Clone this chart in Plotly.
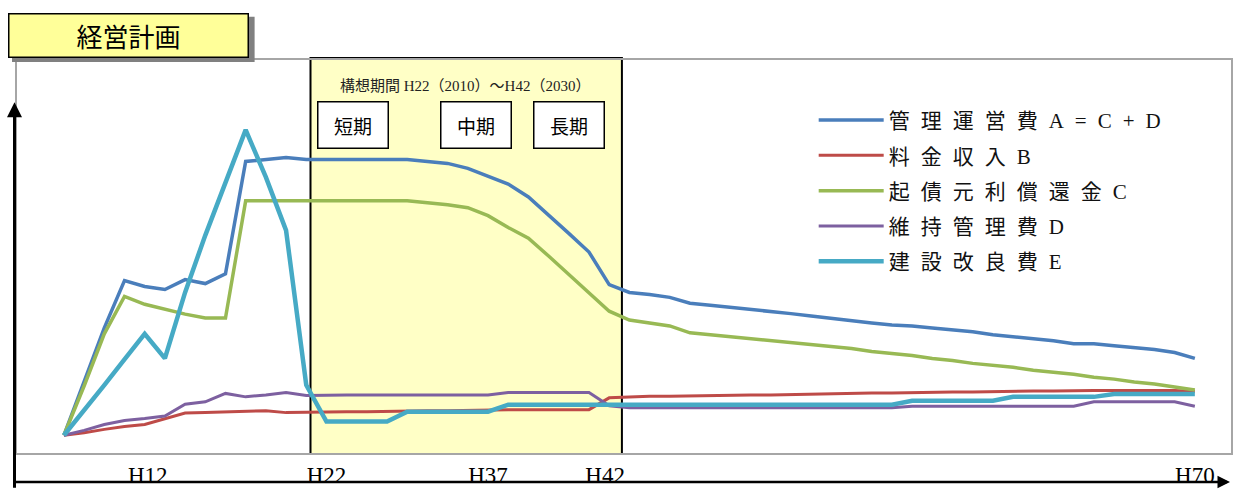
import plotly.graph_objects as go

# ---- data -------------------------------------------------------------
# positions along the horizontal axis (one step per period)
periods = list(range(57))

tick_labels = ["H12", "H22", "H37", "H42", "H70"]
tick_positions = [4.15, 13.0, 21.0, 26.8, 56.0]

# 管理運営費A=C+D
cost_A = [0.0, 5.4, 10.9, 15.7, 15.1, 14.8, 15.8, 15.4, 16.4, 27.8,
          28.0, 28.2, 28.0, 28.0, 28.0, 27.95, 27.95, 28.0, 27.8, 27.6,
          27.1, 26.3, 25.5, 24.2, 22.4, 20.5, 18.6, 15.3, 14.5, 14.3,
          14.0, 13.4, 13.2, 13.0, 12.8, 12.6, 12.35, 12.1, 11.85, 11.6,
          11.4, 11.2, 11.1, 10.9, 10.7, 10.5, 10.2, 10.0, 9.8, 9.6,
          9.3, 9.3, 9.1, 8.9, 8.7, 8.4, 7.8]

# 料金収入B
revenue_B = [0.0, 0.25, 0.6, 0.9, 1.1, 1.7, 2.25, 2.3, 2.35, 2.4,
             2.5, 2.3, 2.35, 2.35, 2.4, 2.4, 2.45, 2.45, 2.5, 2.5,
             2.55, 2.6, 2.6, 2.6, 2.6, 2.6, 2.6, 3.8, 3.9, 3.95,
             3.95, 4.0, 4.0, 4.05, 4.1, 4.1, 4.15, 4.2, 4.25, 4.25,
             4.3, 4.3, 4.35, 4.35, 4.4, 4.4, 4.45, 4.45, 4.5, 4.5,
             4.55, 4.55, 4.55, 4.55, 4.55, 4.55, 4.45]

# 起債元利償還金C
debt_C = [0.0, 5.0, 10.3, 14.1, 13.3, 12.8, 12.3, 11.9, 11.9, 23.8,
          23.8, 23.8, 23.8, 23.8, 23.8, 23.8, 23.8, 23.8, 23.6, 23.4,
          23.1, 22.3, 21.1, 20.0, 18.2, 16.3, 14.4, 12.6, 11.7, 11.4,
          11.1, 10.4, 10.2, 10.0, 9.8, 9.6, 9.4, 9.2, 9.0, 8.8,
          8.5, 8.3, 8.1, 7.8, 7.6, 7.3, 7.1, 6.9, 6.6, 6.4,
          6.2, 5.9, 5.7, 5.4, 5.2, 4.9, 4.6]

# 維持管理費D
upkeep_D = [0.0, 0.5, 1.1, 1.5, 1.7, 1.95, 3.15, 3.4, 4.25, 3.9,
            4.1, 4.35, 4.05, 4.1, 4.1, 4.1, 4.1, 4.1, 4.1, 4.1,
            4.1, 4.1, 4.35, 4.35, 4.35, 4.35, 4.35, 3.0, 2.8, 2.8,
            2.8, 2.8, 2.8, 2.8, 2.8, 2.8, 2.8, 2.8, 2.8, 2.8,
            2.8, 2.8, 2.95, 2.95, 2.95, 2.95, 2.95, 2.95, 2.95, 2.95,
            2.95, 3.4, 3.4, 3.4, 3.4, 3.4, 2.95]

# 建設改良費E
capex_E = [0.0, 2.5, 5.1, 7.7, 10.3, 7.8, 14.5, 20.3, 25.6, 31.0,
           26.2, 20.8, 5.1, 1.4, 1.4, 1.4, 1.4, 2.4, 2.4, 2.4,
           2.4, 2.4, 3.1, 3.1, 3.1, 3.1, 3.1, 3.1, 3.1, 3.1,
           3.1, 3.1, 3.1, 3.1, 3.1, 3.1, 3.1, 3.1, 3.1, 3.1,
           3.1, 3.1, 3.5, 3.5, 3.5, 3.5, 3.5, 3.9, 3.9, 3.9,
           3.9, 3.9, 4.2, 4.2, 4.2, 4.2, 4.2]

series_names = ["管理運営費A=C+D", "料金収入B", "起債元利償還金C",
                "維持管理費D", "建設改良費E"]
series_values = [cost_A, revenue_B, debt_C, upkeep_D, capex_E]

# ---- styling ----------------------------------------------------------
W, H = 1235, 490
ML, MR, MT, MB = 17, 2, 60, 31
PW, PH = W - ML - MR, H - MT - MB

colors = ["#4A7EBB", "#BE4B48", "#98B954", "#7D60A0", "#46AAC5"]
widths = [3.5, 3, 3.5, 3, 4.5]

X_RANGE = [-2.323, 57.79]
Y_RANGE = [-1.8, 38.1]

SERIF_JP = "Liberation Serif, Noto Sans CJK JP, serif"
SANS_JP = "Noto Sans CJK JP, sans-serif"


def px_x(p):
    return (p - ML) / PW


def px_y(p):
    return (H - MB - p) / PH


fig = go.Figure()
for name, vals, col, w in zip(series_names, series_values, colors, widths):
    fig.add_trace(go.Scatter(
        x=periods, y=vals, mode="lines",
        name='<span style="letter-spacing:11px">' + name + "</span>",
        legendgroup=name,
        line=dict(color=col, width=w),
        hoverinfo="skip",
    ))

# 構想期間 highlight band
fig.add_shape(type="rect", xref="x", yref="paper",
              x0=12.21, x1=27.63, y0=px_y(460), y1=px_y(58),
              fillcolor="#FFFFC6", line=dict(color="black", width=2),
              layer="below")

# title plate with drop shadow
fig.add_shape(type="rect", xref="paper", yref="paper",
              x0=px_x(12), x1=px_x(255), y0=px_y(62), y1=px_y(16),
              fillcolor="#808080", line=dict(width=0), layer="above")

CENTER = dict(xanchor="center", yanchor="middle", xref="paper", yref="paper")

annotations = [
    dict(text="経営計画", x=px_x(129), y=px_y(35), showarrow=False,
         width=238, height=42, borderpad=0,
         bgcolor="#FFFF99", bordercolor="black", borderwidth=1.5,
         font=dict(family=SANS_JP, size=26, color="black"), **CENTER),
    dict(text="構想期間 H22（2010）～H42（2030）",
         x=px_x(466), y=px_y(86.5), showarrow=False,
         font=dict(family=SERIF_JP, size=15, color="#222222"), **CENTER),
]
for label, cx in [("短期", 354), ("中期", 476.5), ("長期", 570)]:
    annotations.append(dict(
        text=label, x=px_x(cx), y=px_y(126),
        showarrow=False, width=69, height=45, borderpad=0,
        bgcolor="white", bordercolor="black", borderwidth=1.5,
        font=dict(family=SANS_JP, size=19, color="black"), **CENTER))

# black axes with arrow heads
annotations.append(dict(
    text="", xref="paper", yref="paper", x=px_x(14.5), y=px_y(103),
    ax=0, ay=387, showarrow=True, arrowhead=2, arrowsize=1,
    arrowwidth=3, arrowcolor="black"))
annotations.append(dict(
    text="", xref="paper", yref="paper", x=px_x(1232), y=px_y(488.5),
    ax=-1218, ay=0, showarrow=True, arrowhead=2, arrowsize=1,
    arrowwidth=2.5, arrowcolor="black"))

fig.update_layout(
    width=W, height=H,
    margin=dict(l=ML, r=MR, t=MT, b=MB),
    paper_bgcolor="white", plot_bgcolor="white",
    showlegend=True,
    legend=dict(
        x=px_x(815), y=px_y(100.5), xanchor="left", yanchor="top",
        bgcolor="rgba(0,0,0,0)", itemwidth=65, tracegroupgap=5,
        font=dict(family=SERIF_JP, size=21, color="#111111"),
    ),
    annotations=annotations,
    xaxis=dict(range=X_RANGE, showgrid=False, zeroline=False,
               showline=True, linecolor="#A6A6A6", linewidth=2, mirror=True,
               tickmode="array", tickvals=tick_positions, ticktext=tick_labels,
               ticks="", tickfont=dict(family="Liberation Serif", size=23,
                                       color="black")),
    yaxis=dict(range=Y_RANGE, showgrid=False, zeroline=False,
               showline=True, linecolor="#A6A6A6", linewidth=2, mirror=True,
               showticklabels=False, ticks=""),
)

fig.write_html("out.html")
